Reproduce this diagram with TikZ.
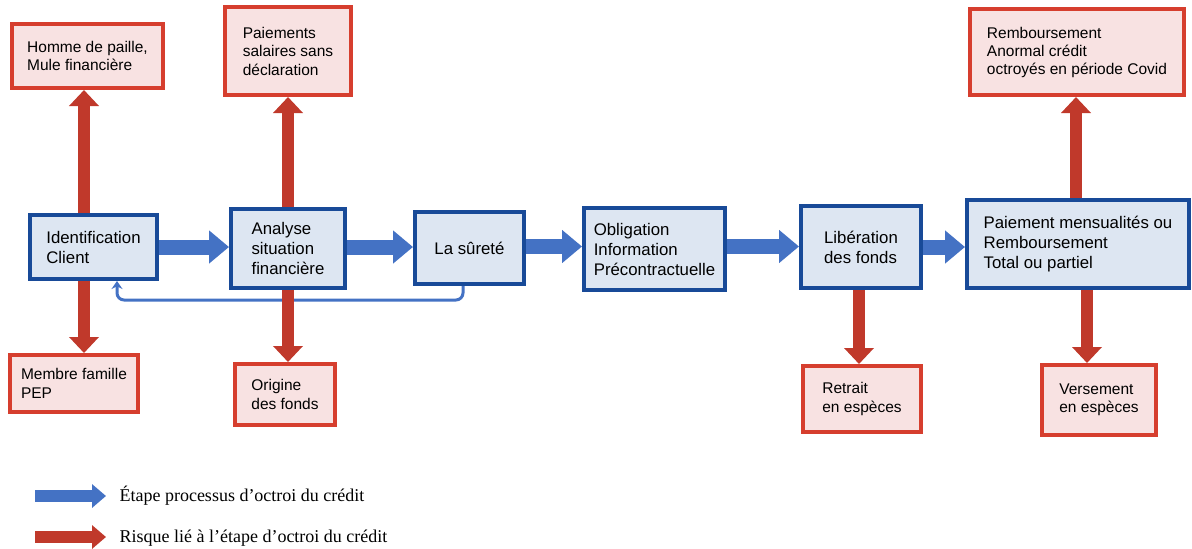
\documentclass[tikz,border=0pt]{standalone}
\usepackage{fontspec}
\setmainfont{Liberation Serif}
\setsansfont{Liberation Sans}
\usepackage{tikz}
\usetikzlibrary{arrows.meta}

\definecolor{procborder}{RGB}{24,74,152}
\definecolor{procfill}{RGB}{221,230,242}
\definecolor{stepblue}{RGB}{68,114,196}
\definecolor{riskborder}{RGB}{214,62,46}
\definecolor{riskfill}{RGB}{248,226,226}
\definecolor{riskred}{RGB}{192,57,43}

\begin{document}
\begin{tikzpicture}[
    x=1pt, y=-1pt,
    process/.style={
        rectangle, draw=procborder, line width=4pt,
        fill=procfill, align=left, inner sep=2pt,
        font=\sffamily\fontsize{16.8}{20}\selectfont
    },
    risk/.style={
        rectangle, draw=riskborder, line width=4pt,
        fill=riskfill, align=left, inner sep=2pt,
        font=\sffamily\fontsize{15.5}{18.5}\selectfont
    },
    stepArrow/.style={-{Triangle[width=32pt,length=20pt]}, line width=15pt, draw=stepblue},
    riskArrow/.style={-{Triangle[width=29pt,length=16pt]}, line width=11.5pt, draw=riskred},
    backArrow/.style={-{Stealth[length=8pt,width=11pt]}, line width=3pt, draw=stepblue, rounded corners=7pt},
    legendtext/.style={font=\fontsize{18}{22}\selectfont, anchor=west}
]
\useasboundingbox (0,0) rectangle (1192,549);

% Process steps
\node[process, minimum width=127pt, minimum height=64pt] (ident) at (93.5,247) {Identification\\Client};
\node[process, minimum width=114pt, minimum height=79pt] (analyse) at (288,248.5) {Analyse\\situation\\financière};
\node[process, minimum width=109pt, minimum height=72pt] (surete) at (469.5,248) {La sûreté};
\node[process, minimum width=141pt, minimum height=82pt] (oblig) at (654.5,249) {Obligation\\Information\\Précontractuelle};
\node[process, minimum width=120pt, minimum height=82pt] (liber) at (861,247) {Libération\\des fonds};
\node[process, minimum width=222pt, minimum height=88pt] (paiem) at (1078,244) {Paiement mensualités ou\\Remboursement\\Total ou partiel};

% Risks above
\node[risk, minimum width=151pt, minimum height=64pt] (homme) at (87.5,56) {Homme de paille,\\Mule financière};
\node[risk, minimum width=126pt, minimum height=88pt] (salaires) at (288,51) {Paiements\\salaires sans\\déclaration};
\node[risk, minimum width=214pt, minimum height=86pt, font=\sffamily\fontsize{15.5}{18}\selectfont] (rembours) at (1077,52) {Remboursement\\Anormal crédit\\octroyés en période Covid};

% Risks below
\node[risk, minimum width=128pt, minimum height=57pt] (pep) at (74,383.5) {Membre famille\\PEP};
\node[risk, minimum width=100pt, minimum height=61pt] (origine) at (285,394.5) {Origine\\des fonds};
\node[risk, minimum width=118pt, minimum height=66pt] (retrait) at (862,399) {Retrait\\en espèces};
\node[risk, minimum width=114pt, minimum height=70pt] (versement) at (1099,400) {Versement\\en espèces};

% Step arrows
\draw[stepArrow] (ident.east) -- (ident.east -| analyse.west);
\draw[stepArrow] ([yshift=1.5pt]analyse.east) -- ([yshift=1.5pt]analyse.east -| surete.west);
\draw[stepArrow] ([yshift=1.5pt]surete.east) -- ([yshift=1.5pt]surete.east -| oblig.west);
\draw[stepArrow] ([yshift=2.5pt]oblig.east) -- ([yshift=2.5pt]oblig.east -| liber.west);
\draw[stepArrow] (liber.east) -- (liber.east -| paiem.west);

% Loop back
\draw[backArrow] ([xshift=-6.5pt]surete.south) -- ++(0,14) -| ([xshift=23.5pt]ident.south);

% Risk arrows
\draw[riskArrow] ([xshift=-9.5pt]ident.north) -- ([xshift=-9.5pt]ident.north |- homme.south);
\draw[riskArrow] ([xshift=-9.5pt]ident.south) -- ([xshift=-9.5pt]ident.south |- pep.north);
\draw[riskArrow] (analyse.north) -- (salaires.south);
\draw[riskArrow] (analyse.south) -- (analyse.south |- origine.north);
\draw[riskArrow] ([xshift=-2pt]liber.south) -- ([xshift=-2pt]liber.south |- retrait.north);
\draw[riskArrow] ([xshift=-2pt]paiem.north) -- ([xshift=-2pt]paiem.north |- rembours.south);
\draw[riskArrow] ([xshift=9pt]paiem.south) -- ([xshift=9pt]paiem.south |- versement.north);

% Legend
\node[legendtext] (legstep) at (116,496) {Étape processus d’octroi du crédit};
\node[legendtext] (legrisk) at (116,538) {Risque lié à l’étape d’octroi du crédit};
\coordinate (stepstart) at (35,496);
\coordinate (riskstart) at (35,537);
\draw[-{Triangle[width=23pt,length=14pt]}, line width=12pt, draw=stepblue] (stepstart) -- ([xshift=-10pt]legstep.west);
\draw[-{Triangle[width=23pt,length=14pt]}, line width=12pt, draw=riskred] (riskstart) -- ([xshift=-10pt]legrisk.west |- riskstart);

\end{tikzpicture}
\end{document}
